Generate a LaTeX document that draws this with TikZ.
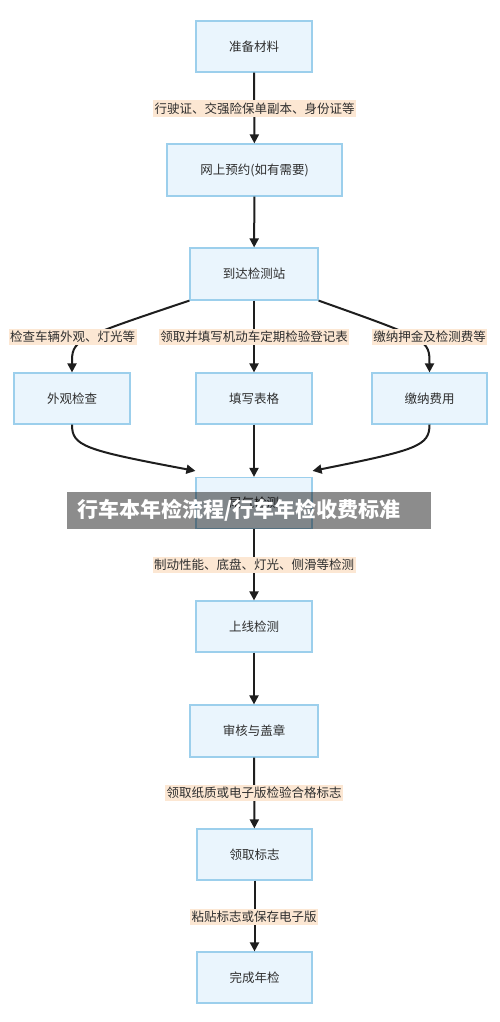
\documentclass[tikz,border=0pt]{standalone}
\usepackage{fontspec}
\setmainfont{Noto Sans CJK SC}
\usetikzlibrary{arrows.meta,calc}
\definecolor{boxfill}{HTML}{EAF5FD}
\definecolor{boxline}{HTML}{9CCFEC}
\definecolor{lblfill}{HTML}{FCE7D3}
\definecolor{txt}{HTML}{2E2E2E}
\definecolor{edgec}{HTML}{1E1E1E}
\begin{document}
\begin{tikzpicture}[x=1pt,y=-1pt,
 box/.style={draw=boxline,fill=boxfill,line width=1.2pt,minimum height=51pt,minimum width=116pt,inner sep=0pt,text=txt,font=\fontsize{12.5}{14}\selectfont},
 lbl/.style={fill=lblfill,inner xsep=1.5pt,inner ysep=2.5pt,text=txt,font=\fontsize{12.5}{14}\selectfont},
 arr/.style={draw=edgec,line width=2pt,-{Triangle[length=9pt,width=9pt]}}]
\useasboundingbox[fill=white] (0,0) rectangle (500,1022);
% boxes
\node[box] (b1) at (254,46.5) {准备材料};
\node[box,minimum width=175pt,minimum height=52pt] (b2) at (254.5,170) {网上预约(如有需要)};
\node[box,minimum width=128pt,minimum height=52pt] (b3) at (254,274) {到达检测站};
\node[box] (bL) at (72,398.5) {外观检查};
\node[box] (bM) at (254,398.5) {填写表格};
\node[box,minimum width=115pt] (bR) at (429.5,398.5) {缴纳费用};
\node[box] (b4) at (254,503) {尾气检测};
\node[box] (b5) at (254,626.5) {上线检测};
\node[box,minimum width=128pt,minimum height=52pt] (b6) at (254,731) {审核与盖章};
\node[box,minimum width=115pt] (b7) at (254.5,854.5) {领取标志};
\node[box,minimum width=115pt] (b8) at (254.5,977.5) {完成年检};
% edges
\draw[arr] (b1) -- (b2);
\draw[arr] (b2) -- (b3);
\draw[arr] (b3.south west) .. controls (72,340) .. (bL.north);
\draw[arr] (b3) -- (bM);
\draw[arr] (b3.south east) .. controls (429.5,340) .. (bR.north);
\draw[arr] (bL.south) .. controls (72,446) and (84,450) .. ([yshift=6pt]b4.north west);
\draw[arr] (bM) -- (b4);
\draw[arr] (bR.south) .. controls (429.5,446) and (417,450) .. ([yshift=6pt]b4.north east);
\draw[arr] (b4) -- (b5);
\draw[arr] (b5) -- (b6);
\draw[arr] (b6) -- (b7);
\draw[arr] (b7) -- (b8);
% labels
\node[lbl] (l1) at (254.5,108.5) {行驶证、交强险保单副本、身份证等};
\node[lbl] (lL) at (72.5,337) {检查车辆外观、灯光等};
\node[lbl] (lM) at (254,337) {领取并填写机动车定期检验登记表};
\node[lbl] (lR) at (429.5,337) {缴纳押金及检测费等};
\node[lbl] (l4) at (254,565) {制动性能、底盘、灯光、侧滑等检测};
\node[lbl] (l6) at (254,793) {领取纸质或电子版检验合格标志};
\node[lbl] (l7) at (254,917) {粘贴标志或保存电子版};
% banner
\node[fill=black,fill opacity=0.45,minimum width=364pt,minimum height=37pt,inner sep=0pt,anchor=north west] (banner) at (67,492) {};
\node[anchor=west,text=white,inner sep=0pt,font=\fontsize{21}{24}\selectfont\bfseries] (bannertext) at (77,510.5) {行车本年检流程/行车年检收费标准};
\end{tikzpicture}
\end{document}
